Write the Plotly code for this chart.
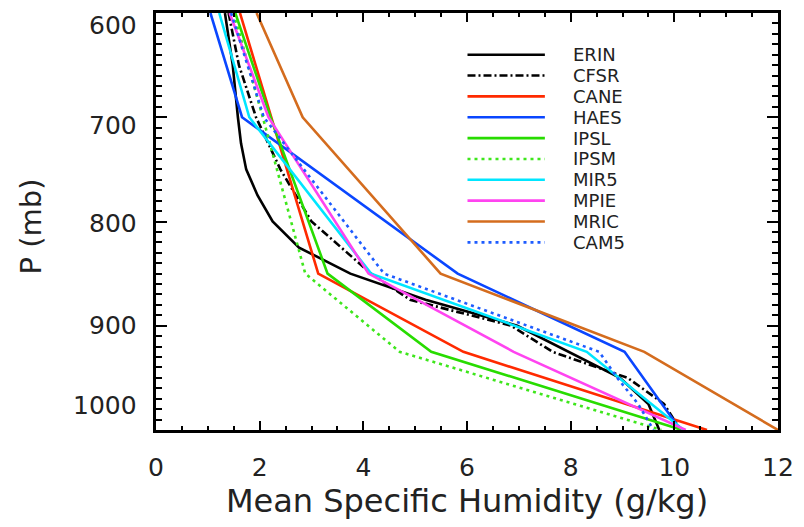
import plotly.graph_objects as go

# Pressure levels (mb)
p_model = [600, 700, 850, 925, 1000]
p_fine = [600, 650, 700, 725, 750, 775, 800, 825, 850, 875, 900, 925, 950, 975, 1000]
p_cfsr = [600, 650, 700, 750, 800, 825, 850, 875, 900, 925, 950, 975, 1000]
p_cam5 = [600, 700, 850, 925, 950, 975, 1000]

# Mean specific humidity (g/kg)
erin = [1.33, 1.48, 1.58, 1.64, 1.74, 1.96, 2.25, 2.76, 3.75, 5.2, 6.97, 7.95, 8.95, 9.5, 9.71]
cfsr = [1.40, 1.60, 1.93, 2.40, 3.00, 3.58, 4.15, 4.90, 6.85, 7.65, 9.10, 9.80, 10.12]
cane = [1.62, 2.22, 3.13, 5.93, 10.63]
haes = [1.05, 1.66, 5.82, 9.04, 10.12]
ipsl = [1.53, 2.21, 3.31, 5.31, 10.15]
ipsm = [1.50, 2.06, 2.88, 4.70, 9.75]
mir5 = [1.22, 1.80, 4.15, 8.31, 10.18]
mpie = [1.42, 2.17, 4.10, 6.90, 10.22]
mric = [1.94, 2.83, 5.49, 9.42, 12.0]
cam5 = [1.45, 2.08, 4.40, 8.55, 8.90, 9.30, 9.60]

names = ["ERIN", "CFSR", "CANE", "HAES", "IPSL", "IPSM", "MIR5", "MPIE", "MRIC", "CAM5"]
x_data = [erin, cfsr, cane, haes, ipsl, ipsm, mir5, mpie, mric, cam5]
p_data = [p_fine, p_cfsr, p_model, p_model, p_model, p_model, p_model, p_model, p_model, p_cam5]
colors = ["#000000", "#000000", "#ff2a00", "#0a46ff", "#28dc00", "#3ee61c",
          "#00e6ff", "#ff44f0", "#d46c1e", "#1e5cff"]
dashes = ["solid", "8px,3px,2px,3px", "solid", "solid", "solid", "3px,4px",
          "solid", "solid", "solid", "3px,4px"]

x_ticks = [0, 2, 4, 6, 8, 10, 12]
y_ticks = [600, 700, 800, 900, 1000]
y_tick_labels = ["600", "700", "800", "900", "1000"]

FONT = "DejaVu Sans"
TXT = "#222222"
L, R, T, B = 156, 21, 10, 97
W, H = 804, 527
pw, ph = W - L - R, H - T - B

fig = go.Figure()
for name, xs, ps, c, d in zip(names, x_data, p_data, colors, dashes):
    fig.add_trace(go.Scatter(x=xs, y=ps, mode="lines", name=name,
                             line=dict(color=c, width=2.6, dash=d),
                             showlegend=False, cliponaxis=True))

axis_common = dict(showline=True, linecolor="black", linewidth=2.5, mirror="allticks",
                   ticks="inside", tickcolor="black", tickwidth=2, showgrid=False,
                   zeroline=False)

fig.update_xaxes(range=[0, 12], tickvals=x_ticks, ticklen=9, ticklabelstandoff=13,
                 minor=dict(ticks="inside", dtick=0.5, ticklen=4, tickcolor="black", tickwidth=1.5),
                 tickfont=dict(family=FONT, size=25, color=TXT),
                 title=dict(text="Mean Specific Humidity (g/kg)",
                            font=dict(family=FONT, size=32, color=TXT), standoff=4),
                 **axis_common)
fig.update_yaxes(range=[1000, 600], tickvals=y_ticks, ticklen=11, showticklabels=False,
                 minor=dict(ticks="inside", dtick=10, ticklen=6, tickcolor="black", tickwidth=1.5),
                 **axis_common)

# Pressure tick labels
label_shift = [-12, -8, -2, 0, 25]
for v, txt, s in zip(y_ticks, y_tick_labels, label_shift):
    fig.add_annotation(x=0, xref="paper", y=v, yref="y", text=txt, showarrow=False,
                       xanchor="right", yanchor="middle", xshift=-17, yshift=s,
                       font=dict(family=FONT, size=25, color=TXT))

fig.add_annotation(x=(30 - L) / pw, xref="paper", y=(H - B - 225) / ph, yref="paper",
                   text="P (mb)", textangle=-90, showarrow=False,
                   xanchor="center", yanchor="middle",
                   font=dict(family=FONT, size=29, color=TXT))

# Legend drawn inside the plot area
row_y = [52, 73, 94, 115, 136, 157, 178, 199, 220, 241]
for name, c, d, py in zip(names, colors, dashes, row_y):
    yp = (H - B - py) / ph
    fig.add_shape(type="line", xref="paper", yref="paper",
                  x0=(470 - L) / pw, x1=(548 - L) / pw, y0=yp, y1=yp,
                  line=dict(color=c, width=2.6, dash=d))
    fig.add_annotation(x=(574 - L) / pw, xref="paper", y=yp, yref="paper", text=name,
                       showarrow=False, xanchor="left", yanchor="middle",
                       font=dict(family=FONT, size=18, color=TXT))

fig.update_layout(width=W, height=H, margin=dict(l=L, r=R, t=T, b=B),
                  plot_bgcolor="white", paper_bgcolor="white", showlegend=False)

fig.write_html("out.html")
